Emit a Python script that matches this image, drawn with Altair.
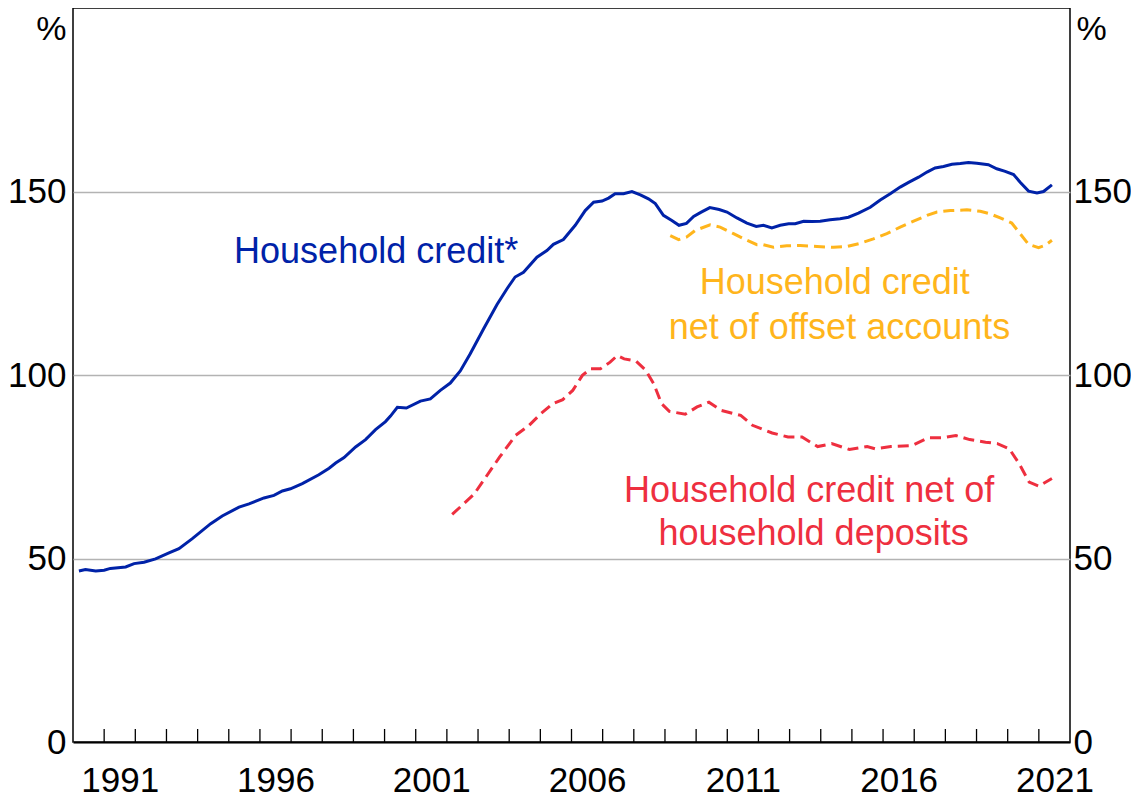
import altair as alt
import pandas as pd

# ---- data (year as decimal, % of disposable income) ----
credit_year = [1990.19, 1990.40, 1990.73, 1991.00, 1991.20, 1991.69, 1991.96, 1992.28, 1992.65, 1993.08,
               1993.40, 1993.83, 1994.42, 1994.79, 1995.33, 1995.65, 1996.13, 1996.45, 1996.72, 1996.98,
               1997.36, 1997.89, 1998.22, 1998.43, 1998.70, 1999.07, 1999.39, 1999.71, 2000.03, 2000.19,
               2000.41, 2000.70, 2001.15, 2001.47, 2001.79, 2002.11, 2002.43, 2002.75, 2003.18, 2003.61,
               2003.93, 2004.19, 2004.46, 2004.89, 2005.21, 2005.42, 2005.74, 2006.12, 2006.44, 2006.71,
               2006.98, 2007.19, 2007.40, 2007.67, 2007.94, 2008.21, 2008.47, 2008.69, 2008.95, 2009.22,
               2009.45, 2009.69, 2009.92, 2010.15, 2010.44, 2010.74, 2010.99, 2011.31, 2011.63, 2011.93,
               2012.16, 2012.43, 2012.70, 2012.97, 2013.18, 2013.45, 2013.72, 2013.98, 2014.30, 2014.62,
               2014.89, 2015.21, 2015.59, 2015.91, 2016.23, 2016.55, 2016.82, 2017.14, 2017.41, 2017.67,
               2017.94, 2018.21, 2018.48, 2018.74, 2019.01, 2019.38, 2019.65, 2019.92, 2020.19, 2020.40,
               2020.67, 2020.94, 2021.15, 2021.42]
credit_value = [46.6, 47.0, 46.6, 46.8, 47.3, 47.7, 48.6, 49.0, 49.9, 51.5,
                52.7, 55.4, 59.5, 61.6, 64.0, 64.9, 66.5, 67.2, 68.4, 69.0,
                70.4, 72.8, 74.6, 76.0, 77.5, 80.4, 82.4, 85.1, 87.3, 88.8,
                91.2, 91.0, 92.9, 93.5, 95.8, 97.8, 101.1, 105.8, 112.6, 119.2,
                123.5, 126.7, 128.0, 132.1, 133.9, 135.6, 136.9, 140.8, 144.8, 147.1,
                147.4, 148.2, 149.4, 149.4, 150.0, 149.1, 148.0, 146.7, 143.5, 142.1,
                140.8, 141.3, 143.2, 144.3, 145.6, 145.1, 144.4, 142.8, 141.4, 140.5,
                140.8, 140.1, 140.8, 141.2, 141.2, 141.9, 141.8, 141.9, 142.3, 142.6,
                143.0, 144.1, 145.7, 147.7, 149.4, 151.2, 152.5, 153.9, 155.3, 156.4,
                156.8, 157.4, 157.6, 157.9, 157.7, 157.3, 156.2, 155.5, 154.6, 152.5,
                150.1, 149.6, 150.0, 151.8]

offset_year = [2009.17, 2009.44, 2009.70, 2009.97, 2010.45, 2010.77, 2011.20, 2011.63, 2011.95, 2012.16,
               2012.48, 2012.91, 2013.34, 2013.88, 2014.41, 2014.84, 2015.27, 2015.69, 2016.12, 2016.55,
               2016.98, 2017.41, 2017.73, 2018.16, 2018.69, 2019.12, 2019.44, 2019.76, 2020.13, 2020.40,
               2020.67, 2020.99, 2021.20, 2021.42]
offset_value = [138.0, 136.9, 137.6, 139.4, 140.9, 140.3, 138.5, 136.7, 135.5, 135.5,
                134.8, 135.2, 135.3, 135.0, 134.8, 135.0, 135.9, 137.1, 138.5, 140.3,
                141.9, 143.5, 144.4, 144.8, 145.0, 144.6, 143.9, 142.8, 141.4, 138.5,
                135.6, 134.7, 135.3, 136.7]

deposits_year = [2002.17, 2002.87, 2003.18, 2003.69, 2004.20, 2004.64, 2005.02, 2005.40, 2005.72, 2006.04,
                 2006.35, 2006.61, 2006.93, 2007.24, 2007.47, 2007.69, 2008.07, 2008.38, 2008.64, 2008.89,
                 2009.14, 2009.65, 2010.03, 2010.41, 2010.79, 2011.43, 2011.81, 2012.44, 2012.95, 2013.40,
                 2013.90, 2014.35, 2014.92, 2015.49, 2015.74, 2016.25, 2016.94, 2017.45, 2017.90, 2018.34,
                 2018.78, 2019.29, 2019.67, 2020.05, 2020.37, 2020.69, 2021.00, 2021.42]
deposits_value = [62.0, 67.5, 71.3, 77.6, 83.5, 86.3, 89.5, 92.2, 93.3, 95.8,
                  99.9, 101.7, 101.7, 103.5, 105.3, 104.4, 103.8, 101.3, 97.6, 92.2,
                  90.1, 89.3, 91.3, 92.6, 90.4, 89.0, 86.3, 84.2, 83.1, 83.1,
                  80.5, 81.3, 79.7, 80.5, 79.9, 80.5, 80.8, 82.9, 82.9, 83.5,
                  82.4, 81.7, 81.3, 79.9, 75.8, 70.8, 69.7, 71.8]

tick_years = list(range(1991, 2022))
label_years = [1991, 1996, 2001, 2006, 2011, 2016, 2021]
y_ticks = [0, 50, 100, 150]

ann_text = ["Household credit*", "Household credit", "net of offset accounts",
            "Household credit net of", "household deposits"]
ann_year = [1999.73, 2014.45, 2014.60, 2013.63, 2013.77]
ann_level = [130.6, 122.1, 109.9, 65.4, 53.6]
ann_series = ["credit", "offset", "offset", "deposits", "deposits"]

BLUE = "#0022A8"
ORANGE = "#FFB51C"
RED = "#EE2F3F"
FONT = "Liberation Sans"
FS = 35
ANN_FS = 36
UNIT_FS = 34

series_domain = ["credit", "offset", "deposits"]
series_range = [BLUE, ORANGE, RED]

credit_df = pd.DataFrame({"year": credit_year, "value": credit_value})
offset_df = pd.DataFrame({"year": offset_year, "value": offset_value})
deposits_df = pd.DataFrame({"year": deposits_year, "value": deposits_value})
ticks_df = pd.DataFrame({"year": tick_years})
ann_df = pd.DataFrame({"text": ann_text, "year": ann_year, "value": ann_level, "series": ann_series})

x_scale = alt.Scale(domain=[1990, 2022], nice=False, zero=False)
y_dom = [0, 200]

x_axis = alt.Axis(
    values=[y + 0.5 for y in label_years],
    labelExpr="'' + floor(datum.value)",
    ticks=False, tickSize=0, grid=False,
    domain=True, domainColor="black", domainWidth=2,
    labelFont=FONT, labelFontSize=FS, labelColor="black",
    labelBaseline="alphabetic", labelPadding=49, labelFlush=False,
    title=None,
)


def X(axis=x_axis):
    return alt.X("year:Q", scale=x_scale, axis=axis)


left_axis = alt.Axis(
    values=y_ticks, format="d", orient="left",
    ticks=False, tickSize=0, domain=False,
    grid=True, gridColor="#B3B3B3", gridWidth=1.5,
    labelFont=FONT, labelFontSize=FS, labelColor="black", labelPadding=7,
    title="%", titleFont=FONT, titleFontSize=UNIT_FS, titleFontWeight="normal", titleColor="black",
    titleAngle=0, titleAlign="right", titleBaseline="alphabetic", titleX=-7, titleY=31,
)
right_axis = alt.Axis(
    values=y_ticks, format="d", orient="right",
    ticks=False, tickSize=0, domain=False, grid=False,
    labelFont=FONT, labelFontSize=FS, labelColor="black", labelPadding=3,
    title="%", titleFont=FONT, titleFontSize=UNIT_FS, titleFontWeight="normal", titleColor="black",
    titleAngle=0, titleAlign="left", titleBaseline="alphabetic", titleX=6, titleY=31,
)

credit_line = alt.Chart(credit_df).mark_line(color=BLUE, strokeWidth=3).encode(
    x=X(),
    y=alt.Y("value:Q", scale=alt.Scale(domain=y_dom), axis=left_axis),
)
offset_line = alt.Chart(offset_df).mark_line(color=ORANGE, strokeWidth=3, strokeDash=[11, 6]).encode(
    x=X(),
    y=alt.Y("value:Q", scale=alt.Scale(domain=y_dom), axis=right_axis),
)
deposits_line = alt.Chart(deposits_df).mark_line(color=RED, strokeWidth=3, strokeDash=[11, 6]).encode(
    x=X(),
    y=alt.Y("value:Q", scale=alt.Scale(domain=y_dom), axis=None),
)
tick_marks = alt.Chart(ticks_df).mark_rule(color="black", strokeWidth=1.3).encode(
    x=X(),
    y=alt.value(721),
    y2=alt.value(734),
)
labels = alt.Chart(ann_df).mark_text(
    font=FONT, fontSize=ANN_FS, align="center", baseline="alphabetic"
).encode(
    x=X(),
    y=alt.Y("value:Q", scale=alt.Scale(domain=y_dom), axis=None),
    text="text:N",
    color=alt.Color("series:N", scale=alt.Scale(domain=series_domain, range=series_range), legend=None),
)

chart = alt.layer(credit_line, offset_line, deposits_line, tick_marks, labels).resolve_scale(
    y="independent"
).properties(
    width=997, height=734,
    autosize=alt.AutoSizeParams(type="none"),
    padding={"left": 65, "top": 0, "right": 61, "bottom": 56},
).configure_view(stroke="black", strokeWidth=1.5)

chart.save("out.html", embed_options={"renderer": "svg", "actions": False})
